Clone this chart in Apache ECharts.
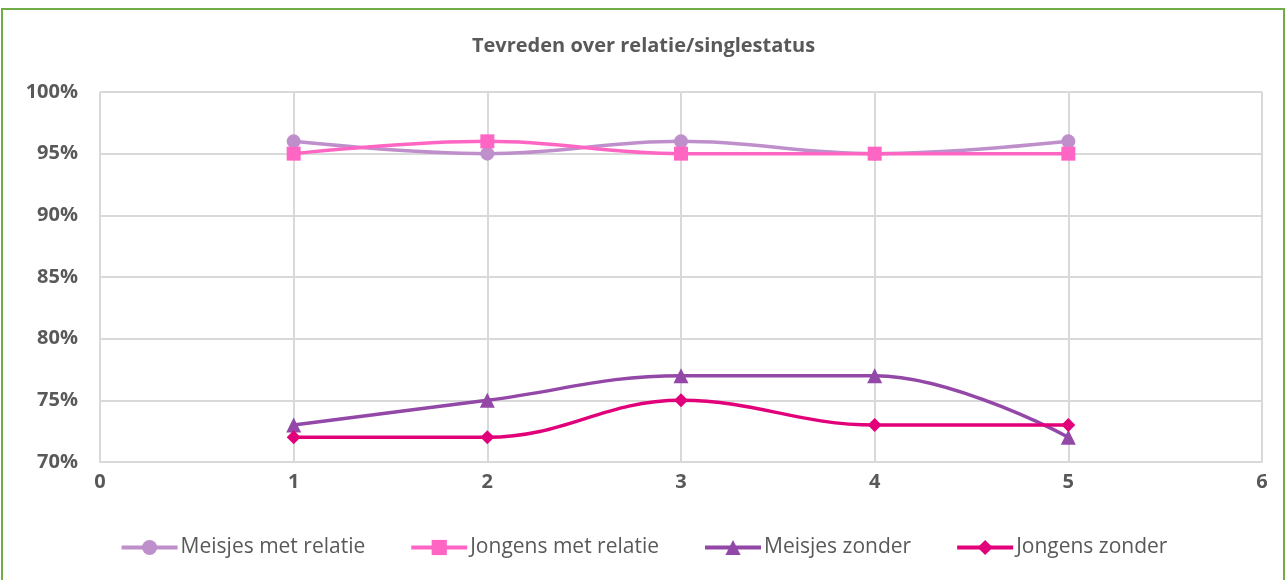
<!DOCTYPE html>
<html>
<head>
<meta charset="utf-8">
<script src="https://cdn.jsdelivr.net/npm/echarts@6/dist/echarts.min.js"></script>
<style>
html, body { margin: 0; padding: 0; background: #fff; }
#chart { width: 1287px; height: 580px; }
</style>
</head>
<body>
<div id="chart"></div>
<script>
var chart = echarts.init(document.getElementById('chart'));

// data
var xValues = [1, 2, 3, 4, 5];
var meisjesMet = [0.96, 0.95, 0.96, 0.95, 0.96];
var jongensMet = [0.95, 0.96, 0.95, 0.95, 0.95];
var meisjesZonder = [0.73, 0.75, 0.77, 0.77, 0.72];
var jongensZonder = [0.72, 0.72, 0.75, 0.73, 0.73];
var names = ['Meisjes met relatie', 'Jongens met relatie', 'Meisjes zonder', 'Jongens zonder'];
var colors = ['#bf8fcc', '#ff66c4', '#9348a8', '#e2007a'];
var symbols = ['circle', 'rect', 'triangle', 'diamond'];
var symbolSizes = [14, 14, 15, 14];

function pairs(ys) {
    var out = [];
    for (var i = 0; i < xValues.length; i++) {
        out.push([xValues[i], ys[i]]);
    }
    return out;
}

var allData = [meisjesMet, jongensMet, meisjesZonder, jongensZonder];
var series = [];
allData.forEach(function (ys, i) {
    series.push({
        name: names[i],
        type: 'line',
        smooth: 0.4,
        data: pairs(ys),
        symbol: symbols[i],
        symbolSize: symbolSizes[i],
        showAllSymbol: true,
        itemStyle: { color: colors[i] },
        lineStyle: { color: colors[i], width: 3.5 }
    });
});

var option = {
    animation: false,
    backgroundColor: '#fff',
    textStyle: { fontFamily: 'Open Sans' },
    graphic: [{
        type: 'rect',
        shape: { x: 2, y: 9, width: 1282, height: 575 },
        style: { fill: 'none', stroke: '#70ad47', lineWidth: 2 },
        silent: true
    }],
    title: {
        text: 'Tevreden over relatie/singlestatus',
        left: 'center',
        top: 31,
        textStyle: { fontSize: 20, fontWeight: 'bold', color: '#595959', fontFamily: 'Open Sans' }
    },
    legend: {
        bottom: 17,
        left: 'center',
        itemWidth: 56,
        itemHeight: 19,
        itemGap: 44,
        lineStyle: { width: 4 },
        textStyle: { fontSize: 21, color: '#595959', fontFamily: 'Open Sans', padding: [0, 0, 0, -2] },
        data: names
    },
    grid: { left: 100, right: 25, top: 92, bottom: 118, containLabel: false },
    xAxis: {
        type: 'value',
        min: 0,
        max: 6,
        interval: 1,
        axisLine: { show: true, lineStyle: { color: '#d9d9d9', width: 2 } },
        axisTick: { show: false },
        splitLine: { show: true, lineStyle: { color: '#d9d9d9', width: 2 } },
        axisLabel: { fontSize: 20, fontWeight: 'bold', color: '#595959', margin: 10 }
    },
    yAxis: {
        type: 'value',
        min: 0.7,
        max: 1.0,
        interval: 0.05,
        axisLine: { show: false },
        axisTick: { show: false },
        splitLine: { show: true, lineStyle: { color: '#d9d9d9', width: 2 } },
        axisLabel: {
            fontSize: 20, fontWeight: 'bold', color: '#595959', margin: 22,
            formatter: function (v) { return Math.round(v * 100) + '%'; }
        }
    },
    series: series
};
chart.setOption(option);
</script>
</body>
</html>
